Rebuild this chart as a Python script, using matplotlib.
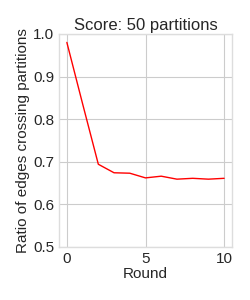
import matplotlib
matplotlib.use("Agg")
import matplotlib.pyplot as plt

rounds = [0, 1, 2, 3, 4, 5, 6, 7, 8, 9, 10]
ratio = [0.980, 0.836, 0.694, 0.674, 0.673, 0.662, 0.666, 0.659, 0.661, 0.659, 0.661]

plt.style.use("seaborn-v0_8-whitegrid")
plt.rcParams['font.family'] = ['Liberation Sans', 'DejaVu Sans']

fig = plt.figure(figsize=(2.5, 3), dpi=100)
ax = fig.add_axes([0.236, 0.177, 0.692, 0.71])
ax.plot(rounds, ratio, color='red', linewidth=1)
ax.set_xlim(-0.5, 10.5)
ax.set_ylim(0.5, 1.0)
ax.set_xticks([0, 5, 10])
ax.set_yticks([0.5, 0.6, 0.7, 0.8, 0.9, 1.0])
ax.tick_params(labelsize=11, colors='#262626')
ax.set_title("Score: 50 partitions", fontsize=12, color='#262626', pad=3)
ax.set_xlabel("Round", fontsize=11, color='#262626', labelpad=1)
ax.set_ylabel("Ratio of edges crossing partitions", fontsize=11, color='#262626', labelpad=2)
for s in ax.spines.values():
    s.set_visible(True)
    s.set_color('#dddddd')
plt.savefig("out.png", dpi=100)
